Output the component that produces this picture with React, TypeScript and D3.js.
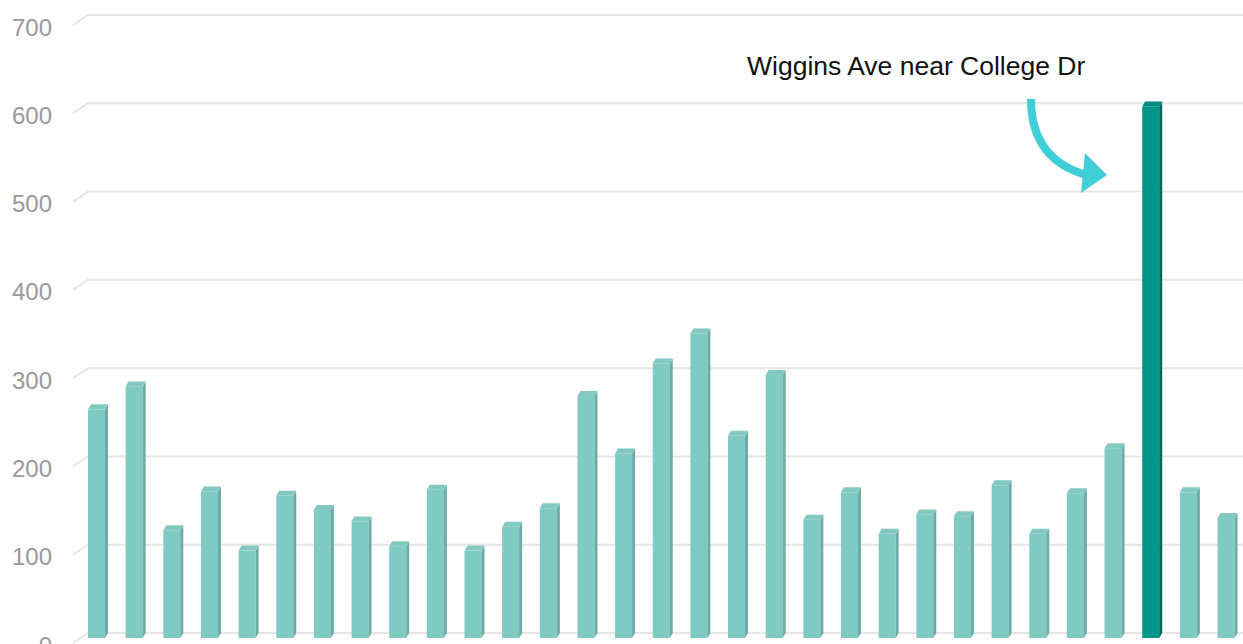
import React from "react";
import * as d3 from "d3";

const categories: string[] = [
  "Site 1", "Site 2", "Site 3", "Site 4", "Site 5", "Site 6", "Site 7", "Site 8",
  "Site 9", "Site 10", "Site 11", "Site 12", "Site 13", "Site 14", "Site 15", "Site 16",
  "Site 17", "Site 18", "Site 19", "Site 20", "Site 21", "Site 22", "Site 23", "Site 24",
  "Site 25", "Site 26", "Site 27", "Site 28", "Wiggins Ave near College Dr", "Site 30", "Site 31",
];
const values: number[] = [
  259, 285, 122, 166, 99, 161, 145, 132, 104, 168, 99, 126, 147, 274, 209, 311,
  345, 229, 298, 134, 165, 118, 140, 138, 173, 118, 164, 215, 602, 165, 136,
];
const yTicks: number[] = [0, 100, 200, 300, 400, 500, 600, 700];
const highlight = "Wiggins Ave near College Dr";

const W = 1243;
const H = 644;

export default function App() {
  const y = d3.scaleLinear().domain([0, 700]).range([633, 15]);
  const x = d3.scalePoint<string>().domain(categories).range([98, 1227.5]);

  const wallDx = 15;
  const wallDy = 10;
  const barDx = 3;
  const barDy = 5;
  const frontW = 17;

  return (
    <svg
      width={W}
      height={H}
      style={{ position: "absolute", left: 0, top: 0, background: "#fff" }}
      fontFamily="'Liberation Sans', Arial, sans-serif"
    >
      {yTicks.map((t) => (
        <g key={t}>
          <polyline
            points={`${88 - wallDx},${y(t) + wallDy} 88,${y(t)} ${W},${y(t)}`}
            fill="none"
            stroke="#e6e6e6"
            strokeWidth={2}
          />
          <text
            x={52}
            y={y(t) + 20.5}
            textAnchor="end"
            fontSize={24}
            fill="#999999"
          >
            {t}
          </text>
        </g>
      ))}

      {categories.map((c, i) => {
        const v = values[i];
        const cx = x(c) as number;
        const x0 = cx - 10;
        const x1 = x0 + frontW;
        const yt = y(v) + barDy;
        const yb = y(0) + barDy;
        const hl = c === highlight;
        const front = hl ? "#009688" : "#80cac4";
        const side = hl ? "#00665d" : "#6eaaa6";
        const top = hl ? "#00897d" : "#84c8c2";
        return (
          <g key={c}>
            <rect x={x0} y={yt} width={frontW} height={yb - yt} fill={front} />
            <polygon
              points={`${x1},${yt} ${x1 + barDx},${yt - barDy} ${x1 + barDx},${yb - barDy} ${x1},${yb}`}
              fill={side}
            />
            <polygon
              points={`${x0},${yt} ${x0 + barDx},${yt - barDy} ${x1 + barDx},${yt - barDy} ${x1},${yt}`}
              fill={top}
            />
          </g>
        );
      })}

      <text x={747} y={75} fontSize={26.5} fill="#111">
        {highlight}
      </text>
      <path
        d="M1031,99 C1031,140 1050,166 1090,176"
        fill="none"
        stroke="#41ced6"
        strokeWidth={8}
      />
      <polygon points="1107,175 1085,153 1081,193" fill="#41ced6" />
    </svg>
  );
}
